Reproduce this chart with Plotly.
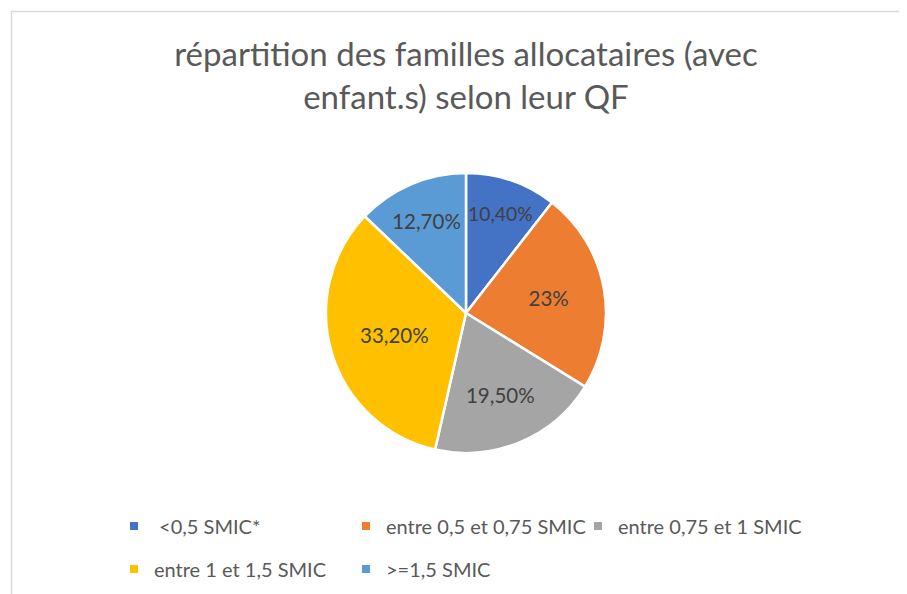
import plotly.graph_objects as go

categories = [" <0,5 SMIC*", "entre 0,5 et 0,75 SMIC", "entre 0,75 et 1 SMIC",
              "entre 1 et 1,5 SMIC", ">=1,5 SMIC"]
values = [10.4, 23.0, 19.5, 33.2, 12.7]
value_labels = ["10,40%", "23%", "19,50%", "33,20%", "12,70%"]
colors = ["#4472C4", "#ED7D31", "#A5A5A5", "#FFC000", "#5B9BD5"]
legend_rows = ["legend", "legend", "legend", "legend2", "legend2"]

# browser body margin offsets the figure by 8px
OFF = 8
W, H = 907 - OFF, 594 - OFF


def px(sx):
    return (sx - OFF) / W


def py(sy):
    return 1 - (sy - OFF) / H


fig = go.Figure(go.Pie(
    labels=categories,
    values=values,
    text=value_labels,
    textinfo="text",
    textposition="inside",
    insidetextorientation="horizontal",
    sort=False,
    direction="clockwise",
    rotation=0,
    showlegend=False,
    marker=dict(colors=colors, line=dict(color="white", width=2.5)),
    textfont=dict(family="Lato", size=20.5, color="#404040"),
    hoverinfo="label+text",
    domain=dict(x=[px(326), px(606)], y=[py(453), py(173)]),
))

for cat, col, lg in zip(categories, colors, legend_rows):
    fig.add_trace(go.Scatter(
        x=[None], y=[None], mode="markers", name=cat, legend=lg,
        marker=dict(symbol="square", size=8, color=col),
        hoverinfo="skip",
    ))

legend_common = dict(
    orientation="h",
    x=px(114), xanchor="left",
    yanchor="middle",
    entrywidth=187, entrywidthmode="pixels",
    font=dict(family="Lato", size=20, color="#595959"),
    itemclick=False, itemdoubleclick=False,
    bgcolor="rgba(0,0,0,0)",
)

fig.update_layout(
    width=W, height=H,
    margin=dict(l=0, r=0, t=0, b=0),
    paper_bgcolor="white",
    plot_bgcolor="white",
    xaxis=dict(visible=False),
    yaxis=dict(visible=False),
    title=dict(
        text="répartition des familles allocataires (avec<br>enfant.s) selon leur QF",
        x=px(466), xanchor="center",
        y=py(66), yanchor="top",
        font=dict(family="Lato", size=33, color="#595959"),
    ),
    legend=dict(y=py(526), **legend_common),
    legend2=dict(y=py(569), **legend_common),
    shapes=[dict(type="rect", xref="paper", yref="paper",
                 x0=px(11.5), y0=py(11.5), x1=1.05, y1=-0.05,
                 line=dict(color="#D9D9D9", width=1.5), fillcolor="rgba(0,0,0,0)")],
)

fig.write_html("out.html")
